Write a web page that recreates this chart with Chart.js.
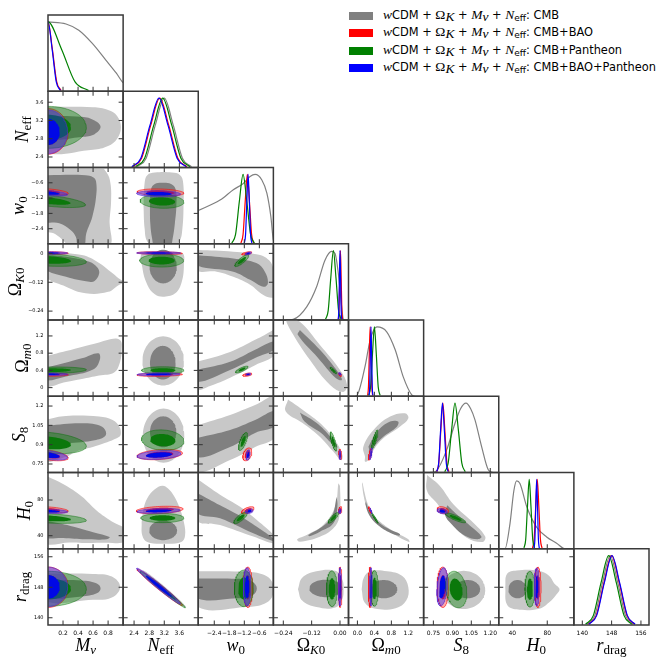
<!DOCTYPE html>
<html>
<head>
<meta charset="utf-8">
<script src="https://cdn.jsdelivr.net/npm/chart.js@4.4.0/dist/chart.umd.min.js"></script>
<style>
body { margin: 0; background: #fff; }
#fig { position: relative; width: 664px; height: 666px; overflow: hidden; background: #fff; }
#fig canvas { position: absolute; }
#legend { position: absolute; left: 349px; top: 7px; z-index: 5; font: 11.4px "DejaVu Sans"; color: #000; }
.row { height: 17.5px; display: flex; align-items: center; white-space: nowrap; }
.sw { display: inline-block; width: 24px; height: 8px; margin-right: 10px; }
.m { font-family: "Liberation Serif"; font-style: italic; font-size: 13.5px; }
.g { font-family: "Liberation Serif"; font-size: 13.5px; }
sub { font-size: 9px; vertical-align: -2px; }
</style>
</head>
<body>
<div id="fig"><div id="legend"></div></div>
<script>
// parameters: M_nu, N_eff, w_0, Omega_K0, Omega_m0, S_8, H_0, r_drag
var xMin = [0, 2.11, -3.04, -0.282, -0.21, 0.673, 24.6, 137.7];
var xMax = [1.0, 4.1, -0.04, 0.036, 1.56, 1.267, 110.4, 158.2];
var yMin = [0, 2.17, -2.99, -0.277, -0.2, 0.684, 25.4, 138.1];
var yMax = [1, 3.84, 0.0, 0.04, 1.57, 1.276, 110.8, 158.1];
var densityMax = 1.1;

var tickVals = [[0.2, 0.4, 0.6, 0.8], [2.4, 2.8, 3.2, 3.6], [-2.4, -1.8, -1.2, -0.6], [-0.24, -0.12, 0],
  [0, 0.4, 0.8, 1.2], [0.75, 0.9, 1.05, 1.2], [40, 80], [140, 148, 156]];
var xLabels = [['0.2', '0.4', '0.6', '0.8'], ['2.4', '2.8', '3.2', '3.6'], ['\u22122.4', '\u22121.8', '\u22121.2', '\u22120.6'],
  ['\u22120.24', '\u22120.12', '0.00'], ['0.0', '0.4', '0.8', '1.2'], ['0.75', '0.90', '1.05', '1.20'], ['40', '80'], ['140', '148', '156']];
var yLabels = [[], ['2.4', '2.8', '3.2', '3.6'], ['\u22122.4', '\u22121.8', '\u22121.2', '\u22120.6'], ['\u22120.24', '\u22120.12', '0'],
  ['0', '0.4', '0.8', '1.2'], ['0.75', '0.9', '1.05', '1.2'], ['40', '80'], ['140', '148', '156']];
// i = italic, r = roman, is / rs = subscript
var titleParts = [
  [['M', 'i'], ['\u03bd', 'is']],
  [['N', 'i'], ['eff', 'rs']],
  [['w', 'i'], ['0', 'rs']],
  [['\u03a9', 'r'], ['K', 'is'], ['0', 'rs']],
  [['\u03a9', 'r'], ['m', 'is'], ['0', 'rs']],
  [['S', 'i'], ['8', 'rs']],
  [['H', 'i'], ['0', 'rs']],
  [['r', 'i'], ['drag', 'rs']]
];

var seriesNames = ['CMB', 'CMB+BAO', 'CMB+Pantheon', 'CMB+BAO+Pantheon'];
var seriesColors = ['#808080', '#ff0000', '#008000', '#0000ff'];

// 1D marginals (density, peak = 1)
var bellY = [0.011, 0.135, 0.607, 1, 0.607, 0.135, 0.011];
var cmbDiagX = [
  [0, 0.24, 0.41, 0.59, 0.77, 0.91, 1.0, 1.05],
  [2.48, 2.72, 2.96, 3.2, 3.44, 3.68, 3.92],
  [-3.1, -2.17, -1.64, -1.24, -0.97, -0.77, -0.5, -0.3, -0.14, -0.04, 0.05],
  [-0.23, -0.198, -0.141, -0.099, -0.064, -0.035, -0.021, -0.007, 0.007, 0.014, 0.02],
  [-0.05, -0.01, 0.18, 0.30, 0.46, 0.69, 0.89, 1.08, 1.28, 1.35],
  [0.72, 0.763, 0.856, 0.921, 0.965, 1.008, 1.045, 1.079, 1.132, 1.184, 1.22],
  [28, 31.7, 37.4, 41.9, 45.0, 48.8, 56.5, 67.9, 79.3, 90.7, 100.2, 105],
  [141.3, 143.4, 145.5, 147.6, 149.7, 151.8, 153.9]
];
var cmbDiagY = [
  [1, 0.97, 0.88, 0.69, 0.45, 0.26, 0.12, 0.08],
  bellY,
  [0.47, 0.63, 0.78, 0.87, 0.97, 1.0, 0.92, 0.73, 0.39, 0.05, 0],
  [0, 0.01, 0.19, 0.48, 0.86, 0.99, 0.96, 0.67, 0.19, 0.01, 0],
  [0, 0.01, 0.43, 0.81, 1.0, 0.93, 0.67, 0.28, 0.02, 0],
  [0, 0.01, 0.33, 0.71, 0.92, 1.0, 0.92, 0.76, 0.37, 0.04, 0],
  [0, 0, 0.36, 0.84, 0.98, 0.94, 0.61, 0.31, 0.17, 0.08, 0, 0],
  bellY
];
var baoDiagX = [
  [-0.174, -0.116, -0.058, 0, 0.058, 0.116, 0.174],
  [2.36, 2.60, 2.84, 3.08, 3.32, 3.56, 3.80],
  [-1.335, -1.25, -1.165, -1.08, -0.995, -0.91, -0.825],
  [-0.007, -0.004, -0.001, 0.002, 0.005, 0.008, 0.011],
  [0.24, 0.26, 0.28, 0.30, 0.32, 0.34, 0.36],
  [0.777, 0.793, 0.809, 0.825, 0.841, 0.857, 0.873],
  [63.2, 65.0, 66.8, 68.6, 70.4, 72.2, 74.0],
  [141.7, 143.8, 145.9, 148.0, 150.1, 152.2, 154.3]
];
var panDiagX = [
  [-0.54, -0.36, -0.18, 0, 0.18, 0.36, 0.54],
  [2.44, 2.68, 2.92, 3.16, 3.40, 3.64, 3.88],
  [-1.70, -1.55, -1.40, -1.25, -1.10, -0.95, -0.80],
  [-0.061, -0.050, -0.039, -0.028, -0.017, -0.006, 0.005],
  [0.265, 0.31, 0.355, 0.40, 0.445, 0.49, 0.535],
  [0.84, 0.867, 0.894, 0.921, 0.948, 0.975, 1.002],
  [53.4, 55.4, 57.4, 59.4, 61.4, 63.4, 65.4],
  [140.9, 143.0, 145.1, 147.2, 149.3, 151.4, 153.5]
];
var allDiagX = [
  [-0.165, -0.11, -0.055, 0, 0.055, 0.11, 0.165],
  [2.34, 2.58, 2.82, 3.06, 3.30, 3.54, 3.78],
  [-1.20, -1.15, -1.10, -1.05, -1.00, -0.95, -0.90],
  [-0.0075, -0.005, -0.0025, 0, 0.0025, 0.005, 0.0075],
  [0.275, 0.29, 0.305, 0.32, 0.335, 0.35, 0.365],
  [0.777, 0.792, 0.807, 0.822, 0.837, 0.852, 0.867],
  [64.9, 65.9, 66.9, 67.9, 68.9, 69.9, 70.9],
  [141.8, 143.9, 146.0, 148.1, 150.2, 152.3, 154.4]
];

// CMB 2D contours: [row, col, outer(95%), inner(68%)]
// 5 numbers = ellipse [cx, cy, sx, sy, rho], otherwise polygon x0,y0,x1,y1,...
var cmbContours = [
  [1, 0, [-0.05, 3.50, 0.6, 3.49, 0.8, 3.43, 0.92, 3.3, 0.97, 3.05, 0.92, 2.8, 0.8, 2.64, 0.6, 2.56, -0.05, 2.55],
         [-0.05, 3.30, 0.45, 3.28, 0.62, 3.2, 0.70, 3.06, 0.62, 2.9, 0.45, 2.84, -0.05, 2.82]],
  [2, 0, [-0.05, 0.1, 0.66, 0.1, 0.78, -0.2, 0.83, -0.6, 0.84, -1.3, 0.82, -2.1, 0.81, -3.1, 0.30, -3.1, 0.2, -2.85, 0.1, -2.62, -0.05, -2.4],
         [-0.05, -0.3, 0.5, -0.3, 0.6, -0.38, 0.64, -0.55, 0.64, -1.15, 0.59, -1.93, 0.51, -2.58, 0.48, -3.1, 0.40, -3.1, 0.37, -2.72, 0.30, -2.45, 0.15, -2.19, -0.05, -2.06]],
  [2, 1, [2.65, -1.5, 2.68, -0.6, 2.75, -0.3, 2.95, -0.2, 3.4, -0.2, 3.62, -0.3, 3.70, -0.6, 3.71, -1.5, 3.68, -2.4, 3.6, -2.9, 3.4, -3.1, 2.95, -3.1, 2.75, -2.9, 2.68, -2.4],
         [2.82, -1.5, 2.85, -0.85, 2.95, -0.65, 3.15, -0.6, 3.38, -0.65, 3.5, -0.85, 3.52, -1.5, 3.48, -2.2, 3.42, -2.8, 3.35, -3.1, 2.95, -3.1, 2.88, -2.8, 2.83, -2.2]],
  [3, 0, [-0.05, 0.005, 0.45, -0.007, 0.68, -0.04, 0.86, -0.083, 0.97, -0.11, 1.05, -0.12, 0.95, -0.13, 0.8, -0.16, 0.5, -0.166, 0.24, -0.139, -0.05, -0.09],
         [-0.05, -0.005, 0.24, -0.014, 0.55, -0.035, 0.66, -0.06, 0.68, -0.085, 0.62, -0.115, 0.55, -0.118, 0.24, -0.097, -0.05, -0.062]],
  [3, 1, [3.2, 0.0, 3.68, 0.0, 3.72, -0.05, 3.66, -0.12, 3.5, -0.165, 3.2, -0.18, 2.95, -0.17, 2.75, -0.13, 2.62, -0.06, 2.62, 0.0],
         [3.17, -0.055, 0.36, 0.07, 0]],
  [3, 2, [-3.1, 0.014, -1.64, 0.007, -0.57, -0.007, -0.25, -0.025, -0.1, -0.045, 0.05, -0.1, 0.05, -0.18, -0.1, -0.185, -0.44, -0.173, -0.97, -0.13, -1.64, -0.097, -2.3, -0.076, -3.1, -0.069],
         [-3.1, -0.007, -1.64, -0.021, -0.72, -0.04, -0.38, -0.076, -0.26, -0.125, -0.44, -0.139, -0.97, -0.11, -1.64, -0.076, -3.1, -0.049]],
  [4, 0, [-0.05, 0.72, 0.24, 0.85, 0.68, 1.05, 0.9, 1.14, 0.97, 1.08, 0.98, 0.9, 0.96, 0.6, 0.88, 0.35, 0.68, 0.28, 0.45, 0.2, 0.24, 0.13, -0.05, 0.05],
         [-0.05, 0.45, 0.45, 0.68, 0.67, 0.8, 0.69, 0.65, 0.6, 0.42, 0.24, 0.26, -0.05, 0.18]],
  [4, 1, [3.17, 0.62, 0.55, 0.57, 0], [3.16, 0.58, 0.34, 0.39, 0]],
  [4, 2, [-3.1, 0.60, -1.77, 0.83, -0.77, 1.11, -0.05, 1.34, 0.05, 1.4, 0.05, 0.8, -0.77, 0.52, -1.77, 0.23, -2.57, 0.04, -3.1, -0.03],
         [-3.1, 0.41, -1.77, 0.6, -0.77, 0.88, 0.05, 1.08, 0.05, 0.9, -0.77, 0.69, -1.77, 0.41, -3.1, 0.13]],
  [4, 3, [-0.22, 1.6, -0.17, 1.53, -0.085, 0.99, 0, 0.41, 0.03, 0.06, 0.013, -0.1, -0.042, 0.06, -0.127, 0.64, -0.21, 1.34, -0.23, 1.6],
         [-0.17, 1.34, -0.085, 0.88, -0.008, 0.36, 0.008, 0.18, -0.017, 0.22, -0.093, 0.69, -0.178, 1.22]],
  [5, 0, [-0.05, 1.092, 0.24, 1.123, 0.68, 1.118, 0.86, 1.092, 0.95, 1.04, 0.97, 0.99, 0.95, 0.962, 0.68, 0.898, 0.37, 0.846, 0.24, 0.807, -0.05, 0.781],
         [-0.05, 1.045, 0.45, 1.066, 0.72, 1.04, 0.77, 0.975, 0.64, 0.937, 0.24, 0.911, -0.05, 0.898]],
  [5, 1, [3.18, 0.97, 0.55, 0.21, 0], [3.17, 1.0, 0.35, 0.12, 0]],
  [5, 2, [-3.1, 1.05, -1.77, 1.131, -0.77, 1.208, 0.05, 1.27, 0.05, 0.97, -0.77, 0.882, -1.77, 0.781, -3.1, 0.70],
         [-3.1, 0.952, -1.77, 1.014, -0.77, 1.092, 0.05, 1.16, 0.05, 1.05, -0.77, 0.991, -1.77, 0.882, -3.1, 0.804]],
  [5, 3, [-0.22, 1.25, -0.15, 1.16, -0.08, 1.06, -0.02, 0.93, 0.01, 0.82, 0.005, 0.78, -0.03, 0.85, -0.09, 0.97, -0.16, 1.07, -0.23, 1.16],
         [-0.17, 1.15, -0.1, 1.07, -0.04, 0.96, -0.01, 0.88, -0.03, 0.9, -0.08, 0.99, -0.15, 1.08]],
  [5, 4, [0.18, 0.807, 0.14, 0.884, 0.38, 1.014, 0.77, 1.118, 1.12, 1.144, 1.2, 1.105, 1.0, 1.04, 0.61, 0.95, 0.38, 0.859, 0.26, 0.781, 0.18, 0.768],
         [0.26, 0.884, 0.46, 1.0, 0.77, 1.079, 0.96, 1.079, 0.93, 1.04, 0.61, 0.962, 0.38, 0.884, 0.30, 0.846]],
  [6, 0, [-0.05, 108, 0.2, 98, 0.45, 84, 0.65, 68, 0.85, 56, 1.05, 46, 1.05, 34, 0.7, 32, 0.3, 32.5, -0.05, 34],
         [-0.05, 57, 0.3, 51, 0.6, 44, 0.82, 38.5, 0.78, 36, 0.5, 36, 0.2, 37.5, -0.05, 39]],
  [6, 1, [2.60, 55, 2.65, 70, 2.75, 82, 2.95, 92, 3.15, 96, 3.3, 93, 3.45, 85, 3.6, 72, 3.72, 55, 3.75, 40, 3.65, 33, 3.2, 31, 2.75, 33, 2.62, 40],
         [3.17, 46, 0.37, 11, 0]],
  [6, 2, [-3.1, 104, -2.17, 86, -1.37, 72.5, -0.70, 57.6, 0.05, 38, 0.05, 31, -0.84, 39, -2.17, 52, -3.1, 58],
         [-3.1, 88, -2.17, 74, -1.37, 62, -0.7, 50, 0.05, 35, 0.05, 33, -0.84, 42.7, -2.17, 59.5, -3.1, 66]],
  [6, 3, [-0.007, 98.7, -0.021, 72.5, -0.071, 52, -0.141, 40.8, -0.181, 36, -0.17, 33.3, -0.085, 38.9, -0.028, 48.3, -0.003, 61.3, 0.0, 95],
         [-0.014, 83.7, -0.035, 61.3, -0.085, 48.3, -0.134, 40.8, -0.128, 39.5, -0.085, 44.5, -0.028, 53.9, -0.011, 72.5]],
  [6, 4, [0.12, 100, 0.17, 88, 0.24, 76, 0.35, 65, 0.55, 55, 0.85, 45, 1.2, 36, 1.22, 33, 0.85, 42, 0.55, 52, 0.33, 62, 0.22, 72, 0.15, 84, 0.11, 98],
         [0.2, 78, 0.3, 66, 0.5, 55, 0.8, 46, 1.0, 42, 0.98, 40, 0.78, 43, 0.48, 52, 0.28, 63, 0.19, 75]],
  [6, 5, [0.70, 108, 0.80, 96, 0.91, 75, 1.07, 54, 1.16, 39, 1.14, 33, 1.01, 38, 0.88, 57, 0.78, 76, 0.70, 90],
         [0.86, 74, 0.95, 62, 1.05, 50, 1.13, 39, 1.1, 36, 1.0, 40, 0.9, 52, 0.84, 64]],
  [7, 0, [-0.05, 151.6, 0.6, 151.5, 0.85, 150.8, 0.96, 148.1, 0.85, 145.3, 0.6, 144.7, -0.05, 144.6],
         [-0.05, 149.9, 0.45, 149.8, 0.65, 149.0, 0.70, 147.7, 0.65, 146.4, 0.45, 145.6, -0.05, 145.5]],
  [7, 1, [3.2, 147.6, 0.58, 4.9, -0.99], [3.2, 147.6, 0.35, 3.0, -0.99]],
  [7, 2, [-3.1, 152.2, -1.0, 152.0, -0.4, 151.2, -0.1, 149.5, -0.05, 147.5, -0.1, 145.3, -0.4, 143.7, -1.0, 142.9, -3.1, 143.0],
         [-3.1, 150.3, -1.5, 150.2, -0.9, 149.5, -0.7, 147.7, -0.9, 145.8, -1.5, 145.1, -3.1, 145.2]],
  [7, 3, [-0.178, 147.5, -0.16, 150.5, -0.1, 152.2, -0.02, 152.3, 0.01, 150, 0.015, 147.5, 0.01, 145, -0.02, 142.7, -0.1, 142.8, -0.16, 144.5],
         [-0.06, 147.7, 0.07, 2.3, 0]],
  [7, 4, [0.10, 147.5, 0.15, 150.5, 0.3, 152.2, 0.7, 152.2, 1.05, 151, 1.2, 148, 1.15, 144.5, 0.9, 142.5, 0.4, 142.4, 0.17, 144],
         [0.62, 147.5, 0.32, 2.4, 0]],
  [7, 5, [0.99, 147.3, 0.17, 5.0, 0], [1.02, 147.5, 0.1, 2.4, 0]],
  [7, 6, [32, 148, 34, 151.5, 45, 152.4, 70, 152.3, 82, 151, 88, 149, 94, 147.5, 90, 146, 82, 144, 70, 142.3, 45, 142.2, 34, 143.5],
         [46, 147.5, 10.5, 2.4, 0]]
];

// Gaussian-like 95% contours: [row, col, cx, cy, sx, sy, rho]; 68% contour is the same ellipse scaled
var baoContours = [
  [1, 0, 0, 2.96, 0.27, 0.50, 0], [2, 0, 0, -0.95, 0.27, 0.13, -0.5], [2, 1, 3.10, -0.98, 0.62, 0.14, -0.2],
  [3, 0, 0, 0.001, 0.27, 0.006, 0], [3, 1, 3.08, 0.001, 0.6, 0.006, -0.2], [3, 2, -1.1, 0.0, 0.2, 0.007, 0.6],
  [4, 0, 0, 0.30, 0.27, 0.035, 0], [4, 1, 3.08, 0.30, 0.6, 0.04, 0.2], [4, 2, -1.08, 0.30, 0.18, 0.04, 0.5],
  [4, 3, 0.001, 0.30, 0.006, 0.04, -0.6],
  [5, 0, 0, 0.82, 0.27, 0.045, -0.5], [5, 1, 3.08, 0.823, 0.6, 0.04, 0.3], [5, 2, -1.08, 0.825, 0.18, 0.05, 0.4],
  [5, 3, 0.001, 0.825, 0.006, 0.04, -0.3], [5, 4, 0.30, 0.825, 0.04, 0.045, 0.7],
  [6, 0, 0, 69, 0.27, 3.6, -0.4], [6, 1, 3.08, 68.8, 0.62, 4.2, 0.3], [6, 2, -1.06, 68.5, 0.25, 4.0, 0.6],
  [6, 3, 0.001, 68.6, 0.007, 4.0, 0.3], [6, 4, 0.30, 68.6, 0.04, 4.0, -0.9], [6, 5, 0.825, 68.6, 0.045, 4.0, -0.3],
  [7, 0, 0, 148.0, 0.27, 5.3, 0], [7, 1, 3.08, 148.0, 0.6, 4.8, -0.985], [7, 2, -1.06, 148.0, 0.19, 5.3, 0],
  [7, 3, 0.001, 148.0, 0.007, 5.3, 0], [7, 4, 0.30, 148.0, 0.04, 5.3, 0], [7, 5, 0.825, 148.0, 0.045, 5.3, 0],
  [7, 6, 69.3, 148.0, 3.7, 5.3, 0]
];
var panContours = [
  [1, 0, 0, 3.05, 0.51, 0.46, 0], [2, 0, 0, -1.30, 0.50, 0.27, -0.6], [2, 1, 3.14, -1.33, 0.58, 0.27, -0.1],
  [3, 0, 0, -0.027, 0.51, 0.027, -0.3], [3, 1, 3.13, -0.03, 0.58, 0.027, 0], [3, 2, -1.3, -0.03, 0.28, 0.025, 0.85],
  [4, 0, 0, 0.40, 0.51, 0.08, 0.2], [4, 1, 3.16, 0.40, 0.56, 0.085, 0], [4, 2, -1.3, 0.42, 0.25, 0.08, 0.8],
  [4, 3, -0.028, 0.40, 0.014, 0.08, -0.9],
  [5, 0, 0, 0.915, 0.51, 0.085, -0.3], [5, 1, 3.16, 0.935, 0.56, 0.08, -0.1], [5, 2, -1.25, 0.925, 0.18, 0.07, 0.7],
  [5, 3, -0.028, 0.925, 0.014, 0.075, -0.8], [5, 4, 0.41, 0.94, 0.075, 0.075, 0.85],
  [6, 0, 0, 59.5, 0.51, 5.7, -0.4], [6, 1, 3.15, 59.8, 0.57, 5.2, 0], [6, 2, -1.35, 60, 0.27, 6.5, 0.8],
  [6, 3, -0.028, 60, 0.022, 6, 0.85], [6, 4, 0.41, 60, 0.08, 6, -0.97], [6, 5, 0.925, 60, 0.08, 5.5, -0.85],
  [7, 0, 0, 147.6, 0.51, 4.6, 0], [7, 1, 3.16, 147.4, 0.6, 4.8, -0.99], [7, 2, -1.22, 147.7, 0.38, 4.8, 0],
  [7, 3, -0.034, 147.6, 0.023, 4.7, 0], [7, 4, 0.40, 147.7, 0.095, 4.7, 0], [7, 5, 0.93, 147.4, 0.085, 4.8, -0.2],
  [7, 6, 60.2, 147.5, 5.7, 4.7, 0]
];
var allContours = [
  [1, 0, 0, 2.95, 0.26, 0.48, 0], [2, 0, 0, -1.0, 0.26, 0.12, -0.5], [2, 1, 3.05, -1.03, 0.58, 0.12, -0.1],
  [3, 0, 0, 0.0015, 0.26, 0.005, 0], [3, 1, 3.05, 0.0015, 0.58, 0.005, 0], [3, 2, -1.04, 0.0, 0.12, 0.006, 0.5],
  [4, 0, 0, 0.31, 0.26, 0.03, 0], [4, 1, 3.05, 0.31, 0.57, 0.035, 0.2], [4, 2, -1.04, 0.31, 0.1, 0.025, 0.3],
  [4, 3, 0.0, 0.32, 0.005, 0.03, -0.6],
  [5, 0, 0, 0.82, 0.26, 0.04, -0.5], [5, 1, 3.06, 0.82, 0.58, 0.035, 0.3], [5, 2, -1.05, 0.82, 0.08, 0.04, 0.3],
  [5, 3, 0.0, 0.82, 0.004, 0.035, -0.3], [5, 4, 0.32, 0.83, 0.03, 0.045, 0.7],
  [6, 0, 0, 67.5, 0.26, 2.6, -0.3], [6, 1, 3.05, 67.8, 0.57, 2.8, 0.3], [6, 2, -1.0, 67.5, 0.15, 2.6, 0.3],
  [6, 3, 0.0, 67.5, 0.005, 2.8, 0.3], [6, 4, 0.32, 68, 0.025, 3, -0.95], [6, 5, 0.82, 67.5, 0.04, 3, -0.3],
  [7, 0, 0, 148.1, 0.26, 5.2, 0], [7, 1, 3.05, 148.3, 0.58, 4.7, -0.985], [7, 2, -1.09, 148.1, 0.15, 5.0, 0],
  [7, 3, 0.0, 148.1, 0.006, 5.0, 0], [7, 4, 0.32, 148.1, 0.03, 5.0, 0], [7, 5, 0.82, 148.1, 0.042, 5.0, 0.3],
  [7, 6, 68.0, 148.1, 2.9, 5.0, 0]
];

// layout of the grid
var LEFT = 48, TOP = 15, PW = 75.125, PH = 76.25, PAD = 3, TICK = 4.5;
var innerScale = 0.6;

var colored = [
  { list: baoContours, diag: baoDiagX, outer: 'rgba(255,70,70,0.45)', edge: 'rgba(255,0,0,0.7)', inner: 'rgba(255,0,0,0.9)', line: '#ff0000' },
  { list: panContours, diag: panDiagX, outer: 'rgba(0,128,0,0.38)', edge: 'rgba(0,110,0,0.55)', inner: '#0b780b', line: '#008000' },
  { list: allContours, diag: allDiagX, outer: 'rgba(30,30,255,0.42)', edge: 'rgba(90,40,210,0.75)', inner: '#0008e6', line: '#0000ff' }
];

var fontFor = {
  i: 'italic 18px "Liberation Serif"', r: '18px "Liberation Serif"',
  is: 'italic 13px "Liberation Serif"', rs: '13px "Liberation Serif"'
};
var xTickFont = '6px "DejaVu Sans"', yTickFont = '5px "DejaVu Sans"';

function mathText(ctx, parts, x, y) {
  var w = 0;
  parts.forEach(function (p) { ctx.font = fontFor[p[1]]; w += ctx.measureText(p[0]).width; });
  var cx = x - w / 2;
  ctx.textAlign = 'left';
  ctx.textBaseline = 'alphabetic';
  parts.forEach(function (p) {
    ctx.font = fontFor[p[1]];
    ctx.fillText(p[0], cx, y + (p[1].length > 1 ? 3 : 0));
    cx += ctx.measureText(p[0]).width;
  });
}

function ellipse(e, k) {
  var pts = [], c = Math.sqrt(1 - e[4] * e[4]);
  for (var n = 0; n <= 72; n++) {
    var t = n / 72 * 2 * Math.PI;
    pts.push({ x: e[0] + k * e[2] * Math.cos(t), y: e[1] + k * e[3] * (e[4] * Math.cos(t) + c * Math.sin(t)) });
  }
  return pts;
}
function polygon(p) {
  var pts = [];
  for (var n = 0; n < p.length; n += 2) pts.push({ x: p[n], y: p[n + 1] });
  pts.push(pts[0]);
  return pts;
}
function shape(p, k) { return p.length === 5 ? ellipse(p, k) : polygon(p); }
function find(list, i, j) {
  for (var n = 0; n < list.length; n++) if (list[n][0] === i && list[n][1] === j) return list[n];
  return null;
}

var frame = {
  id: 'frame',
  afterDraw: function (chart, args, o) {
    var ctx = chart.ctx, a = chart.chartArea, sx = chart.scales.x, sy = chart.scales.y;
    var row = o.row, col = o.col, diag = row === col;
    ctx.save();
    ctx.strokeStyle = '#333';
    ctx.lineWidth = 1;
    ctx.beginPath();
    tickVals[col].forEach(function (v) {
      var px = sx.getPixelForValue(v);
      ctx.moveTo(px, a.bottom); ctx.lineTo(px, a.bottom - TICK);
      if (!diag) { ctx.moveTo(px, a.top); ctx.lineTo(px, a.top + TICK); }
    });
    if (!diag) tickVals[row].forEach(function (v) {
      var py = sy.getPixelForValue(v);
      ctx.moveTo(a.left, py); ctx.lineTo(a.left + TICK, py);
      ctx.moveTo(a.right, py); ctx.lineTo(a.right - TICK, py);
    });
    ctx.stroke();
    ctx.strokeStyle = '#3a3a3a';
    ctx.lineWidth = 1.5;
    ctx.strokeRect(a.left, a.top, a.right - a.left, a.bottom - a.top);
    ctx.fillStyle = '#000';
    if (row === 7) {
      ctx.font = xTickFont;
      ctx.textAlign = 'center'; ctx.textBaseline = 'middle';
      tickVals[col].forEach(function (v, k) { ctx.fillText(xLabels[col][k], sx.getPixelForValue(v), a.bottom + 8); });
      mathText(ctx, titleParts[col], (a.left + a.right) / 2, a.bottom + 26);
    }
    if (col === 0 && row > 0) {
      ctx.font = yTickFont;
      ctx.textAlign = 'right'; ctx.textBaseline = 'middle';
      var widest = 0;
      tickVals[row].forEach(function (v, k) {
        ctx.fillText(yLabels[row][k], a.left - 4.5, sy.getPixelForValue(v));
        widest = Math.max(widest, ctx.measureText(yLabels[row][k]).width);
      });
      // title sits just left of the widest tick label, like matplotlib does
      ctx.translate(a.left - 4.5 - widest - 7.5, (a.top + a.bottom) / 2);
      ctx.rotate(-Math.PI / 2);
      mathText(ctx, titleParts[row], 0, 0);
    }
    ctx.restore();
  }
};

function panelDatasets(i, j) {
  var ds = [];
  function add(pts, fill, edge, lw, tension, mono) {
    ds.push({
      data: pts, fill: fill ? 'shape' : false, backgroundColor: fill || 'transparent',
      borderColor: edge || 'transparent', borderWidth: edge ? lw : 0, pointRadius: 0,
      tension: tension, capBezierPoints: false, cubicInterpolationMode: mono ? 'monotone' : 'default',
      clip: 0, order: 200 - ds.length
    });
  }
  if (i === j) {
    var cx = cmbDiagX[i], cy = cmbDiagY[i];
    add(cx.map(function (x, n) { return { x: x, y: cy[n] }; }), null, seriesColors[0], 1.2, 0, true);
    colored.forEach(function (s) {
      add(s.diag[i].map(function (x, n) { return { x: x, y: bellY[n] }; }), null, s.line, 1.2, 0, true);
    });
    return ds;
  }
  var g = find(cmbContours, i, j);
  if (g) {
    add(shape(g[2], 1), '#c8c8c8', null, 0, g[2].length === 5 ? 0 : 0.4);
    add(shape(g[3], 1), '#808080', null, 0, g[3].length === 5 ? 0 : 0.4);
  }
  colored.forEach(function (s) {
    var e = find(s.list, i, j);
    if (!e) return;
    var p = e.slice(2);
    add(ellipse(p, 1), s.outer, s.edge, 0.8, 0);
    add(ellipse(p, innerScale), s.inner, null, 0, 0);
  });
  return ds;
}

var fig = document.getElementById('fig');
for (var i = 0; i < 8; i++) {
  for (var j = 0; j <= i; j++) {
    var L = LEFT + j * PW, R = L + PW, T = TOP + i * PH, B = T + PH;
    var cl = j === 0 ? 0 : Math.floor(L) - PAD;
    var cr = Math.ceil(R) + PAD;
    var ct = Math.floor(T) - PAD;
    var cb = i === 7 ? 666 : Math.ceil(B) + PAD;
    var cv = document.createElement('canvas');
    cv.width = cr - cl; cv.height = cb - ct;
    cv.style.left = cl + 'px'; cv.style.top = ct + 'px';
    cv.style.width = (cr - cl) + 'px'; cv.style.height = (cb - ct) + 'px';
    fig.appendChild(cv);
    new Chart(cv, {
      type: 'line',
      data: { datasets: panelDatasets(i, j) },
      options: {
        responsive: false, animation: false, events: [],
        layout: { padding: { left: L - cl, right: cr - R, top: T - ct, bottom: cb - B } },
        scales: {
          x: { type: 'linear', display: false, min: xMin[j], max: xMax[j] },
          y: { type: 'linear', display: false, min: i === j ? 0 : yMin[i], max: i === j ? densityMax : yMax[i] }
        },
        plugins: { legend: { display: false }, tooltip: { enabled: false }, frame: { row: i, col: j } }
      },
      plugins: [frame]
    });
  }
}

// legend
var model = '<span class="m">w</span>CDM + <span class="g">\u03a9</span><sub class="m">K</sub> + <span class="m">M</span><sub class="m">\u03bd</sub> + <span class="m">N</span><sub>eff</sub>: ';
var leg = document.getElementById('legend');
seriesNames.forEach(function (name, k) {
  var r = document.createElement('div');
  r.className = 'row';
  r.innerHTML = '<span class="sw" style="background:' + seriesColors[k] + '"></span><span>' + model + name + '</span>';
  leg.appendChild(r);
});
</script>
</body>
</html>
